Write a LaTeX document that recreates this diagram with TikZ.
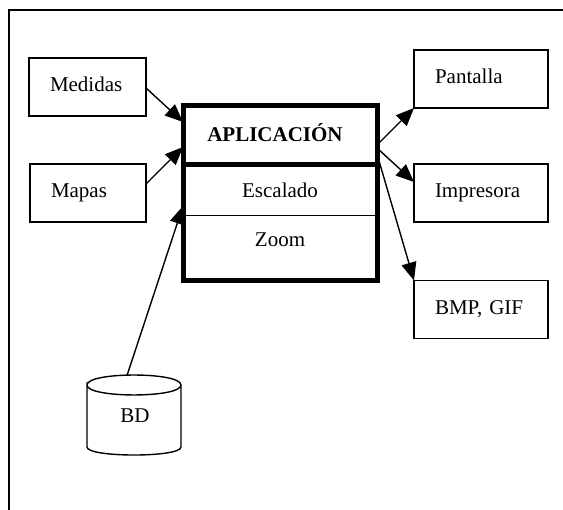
\documentclass[tikz,border=0pt]{standalone}
\usepackage{fontspec}
\setmainfont{Liberation Serif}
\usetikzlibrary{arrows.meta,calc}
\begin{document}
\begin{tikzpicture}[x=1pt,y=-1pt,
  txt/.style={font=\fontsize{21}{25}\selectfont,text height=14pt,text depth=4pt,inner sep=0pt},
  box/.style={txt,draw,line width=1.4pt,outer sep=0pt,minimum height=58pt,align=left,inner xsep=21pt},
  arr/.style={-{Triangle[length=18pt,width=15pt]},line width=1.4pt},
  thickline/.style={line width=5pt},
  thinline/.style={line width=1pt}]
\useasboundingbox (0,0) rectangle (563,510);
% outer frame
\draw[line width=2pt] (9,520) -- (9,10) -- (570,10);
% input boxes
\node[box,text width=75pt] (med) at (87.5,87) {Medidas};
\node[box,text width=74pt] (map) at (88,193) {Mapas};
% output boxes
\node[box,text width=92pt] (pan) at (481,79) {Pantalla};
\node[box,text width=92pt] (imp) at (481,193) {Impresora};
\node[box,text width=92pt] (bmp) at (481,309.5) {BMP, GIF};
% main application box
\node[draw,thickline,outer sep=0pt,inner sep=0pt,minimum width=194pt,minimum height=175pt] (app) at (280,193.5) {};
\draw[thickline] ($(app.north west)+(0,59)$) -- ($(app.north east)+(0,59)$);
\draw[thinline] ($(app.north west)+(0,110)$) -- ($(app.north east)+(0,110)$);
\node[txt,font=\fontsize{21}{25}\selectfont\bfseries] (title) at (275,137) {APLICACIÓN};
\node[txt] (esc) at (280,193) {Escalado};
\node[txt] (zoom) at (280,242) {Zoom};
% database cylinder
\draw[line width=1.4pt] (87,385) .. controls (87,371.7) and (181,371.7) .. (181,385)
  .. controls (181,398.3) and (87,398.3) .. (87,385) -- (87,447)
  .. controls (87,457.7) and (181,457.7) .. (181,447) -- (181,385);
\node[txt] (bd) at (135,418) {BD};
\coordinate (bdtop) at (127,375.5);
% connectors
\draw[arr] ($(med.east)+(0,1)$) -- ($(app.north west)+(0,16)$);
\draw[arr] ($(map.east)+(0,-9)$) -- ($(app.north west)+(0,41)$);
\draw[arr] (bdtop) -- ($(app.north west)+(0,100)$);
\draw[arr] ($(app.north east)+(0,39)$) -- (pan.south west);
\draw[arr] ($(app.north east)+(0,42)$) -- ($(imp.north west)+(0,18)$);
\draw[arr] ($(app.north east)+(0,48)$) -- (bmp.north west);
\end{tikzpicture}
\end{document}
